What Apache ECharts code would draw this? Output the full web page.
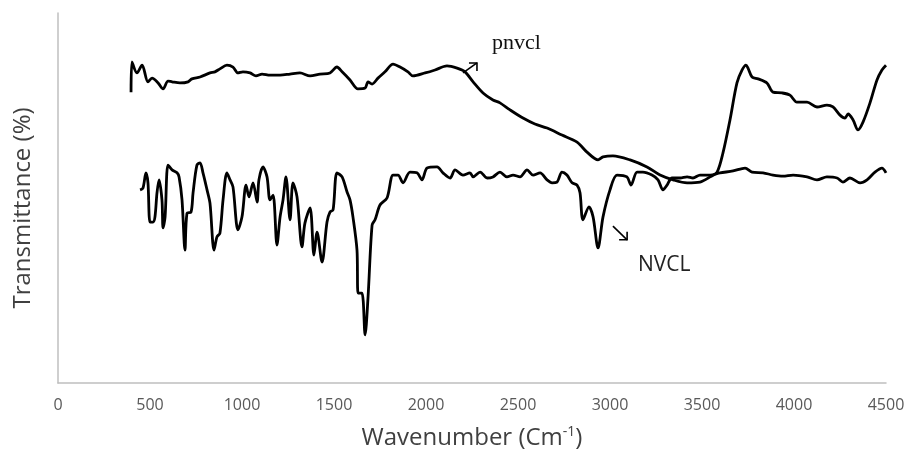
<!DOCTYPE html>
<html>
<head>
<meta charset="utf-8">
<script src="https://cdn.jsdelivr.net/npm/echarts@6/dist/echarts.min.js"></script>
<style>
html,body{margin:0;padding:0;background:#fff;}
#chart{width:909px;height:458px;}
</style>
</head>
<body>
<div id="chart"></div>
<script>
// Wavenumber (cm-1) and transmittance (arbitrary %)
const pnvclX = [397,402,429,457,489,511,544,571,598,620,663,707,728,772,826,853,880,918,951,978,1005,1044,1076,1109,1152,1207,1261,1315,1370,1424,1478,1516,1544,1587,1630,1669,1685,1707,1739,1777,1821,1859,1902,1929,1995,2049,2114,2169,2212,2256,2310,2364,2402,2457,2527,2592,2658,2739,2821,2875,2935,2962,3016,3109,3201,3272,3343,3419,3489,3544,3582,3614,3652,3690,3718,3739,3750,3772,3805,3853,3886,3935,3978,4016,4071,4125,4179,4212,4250,4277,4294,4321,4348,4375,4413,4451,4478,4500];
const pnvclY = [78.6,86.8,83.8,85.9,81.4,82.4,81.1,79.5,81.6,81.4,81.1,81.4,82.2,82.7,83.8,84.1,84.9,85.9,85.4,83.8,84.1,83.8,83.0,83.5,83.2,83.2,83.5,83.8,83.0,83.5,83.8,85.4,84.1,81.9,79.5,79.7,81.4,80.8,82.4,84.1,86.2,85.4,84.1,83.0,83.8,84.6,85.7,85.1,84.1,81.4,78.4,76.5,75.7,73.8,71.6,70.0,68.9,67.0,65.1,62.4,60.3,61.1,61.4,60.3,58.4,56.2,54.9,54.1,54.3,55.7,57.0,62.2,71.1,81.1,84.6,85.9,85.1,82.7,82.2,81.1,78.6,78.4,77.8,75.9,75.9,74.6,75.1,74.6,72.4,71.6,72.7,71.1,68.4,70.5,75.7,81.9,84.6,85.9];

const nvclX = [446,462,478,489,500,516,527,538,549,565,571,582,598,620,647,658,674,690,701,723,734,755,772,788,810,826,848,864,880,897,918,935,951,978,1000,1022,1038,1060,1082,1092,1114,1136,1152,1169,1190,1207,1223,1239,1261,1277,1299,1326,1342,1370,1391,1408,1435,1462,1478,1495,1516,1544,1571,1587,1603,1625,1631,1652,1669,1685,1707,1723,1750,1788,1821,1848,1875,1913,1951,1978,2006,2060,2092,2131,2158,2201,2239,2256,2294,2332,2364,2402,2440,2473,2511,2549,2582,2620,2658,2685,2712,2739,2766,2794,2821,2837,2853,2886,2908,2935,2962,3000,3038,3092,3114,3147,3179,3228,3261,3288,3310,3337,3381,3419,3451,3489,3544,3598,3669,3734,3772,3832,3886,3940,3995,4071,4125,4179,4234,4266,4304,4359,4397,4440,4478,4500];
const nvclY = [52.2,52.7,56.8,54.1,43.5,43.5,44.9,51.4,54.9,49.5,41.9,44.9,58.9,57.6,56.8,55.7,49.5,35.9,45.9,46.2,51.4,58.9,59.5,56.8,52.2,48.6,35.9,39.5,40.5,49.5,56.8,54.9,53.0,41.4,44.9,53.5,50.3,54.1,48.9,54.9,58.4,55.7,49.5,50.8,37.3,44.9,49.5,55.7,44.1,54.1,50.3,36.8,43.2,47.3,34.6,40.8,32.7,43.5,46.2,46.8,56.8,55.7,51.6,49.5,44.9,35.9,24.3,24.3,13.0,23.2,42.7,44.1,48.1,50.0,56.2,56.2,54.1,57.0,56.8,54.9,58.1,58.4,56.8,55.4,57.6,56.2,56.8,55.7,57.0,55.4,55.7,57.0,55.7,56.2,55.7,57.6,56.2,56.8,54.9,54.1,54.3,57.0,56.2,54.1,53.5,51.4,44.1,47.6,44.9,36.5,44.9,52.2,56.2,55.7,53.5,57.0,57.0,56.2,54.9,52.2,53.5,55.4,55.4,55.7,55.4,56.2,56.2,56.8,57.3,58.1,57.0,56.8,56.2,55.9,56.2,55.7,54.9,55.7,55.4,54.3,55.4,54.1,54.9,57.0,58.1,56.8];

const xTicks = [0,500,1000,1500,2000,2500,3000,3500,4000,4500];

// annotation anchor points in data space
const pnvclArrow = [[2201,83.8],[2277,86.5]];
const pnvclLabelAt = [2359,91.9];
const nvclArrow = [[3016,42.4],[3093,38.7]];
const nvclLabelAt = [3152,32.0];

const zip = (xs, ys) => xs.map((x,i)=>[x, ys[i]]);

const chart = echarts.init(document.getElementById('chart'), null, {renderer:'canvas'});
const axisGray = '#bfbfbf';
chart.setOption({
  animation:false,
  backgroundColor:'#fff',
  grid:{left:58,right:23,top:13,bottom:75,containLabel:false},
  xAxis:{
    type:'value',min:xTicks[0],max:xTicks[xTicks.length-1],interval:500,
    axisLine:{show:true,lineStyle:{color:axisGray,width:1.5}},
    axisTick:{show:false},
    splitLine:{show:false},
    axisLabel:{color:'#595959',fontFamily:'Open Sans',fontSize:16,margin:14,formatter:v=>String(v)},
    name:'{a|Wavenumber (Cm}{s|-1}{a|)}',
    nameLocation:'middle',nameGap:42,
    nameTextStyle:{rich:{
      a:{fontFamily:'Open Sans',fontSize:24,color:'#404040'},
      s:{fontFamily:'Open Sans',fontSize:14,color:'#404040',verticalAlign:'top',padding:[0,0,12,0]}
    }}
  },
  yAxis:{
    type:'value',min:0,max:100,
    axisLine:{show:true,lineStyle:{color:axisGray,width:1.5}},
    axisTick:{show:false},
    axisLabel:{show:false},
    splitLine:{show:false},
    name:'Transmittance (%)',nameLocation:'middle',nameGap:23,
    nameTextStyle:{fontFamily:'Open Sans',fontSize:24,color:'#404040',padding:[0,20,0,0]}
  },
  series:[
    {name:'pnvcl',type:'line',data:zip(pnvclX,pnvclY),showSymbol:false,smooth:0.3,
     lineStyle:{color:'#000',width:2.8},itemStyle:{color:'#000'}},
    {name:'NVCL',type:'line',data:zip(nvclX,nvclY),showSymbol:false,smooth:0.3,
     lineStyle:{color:'#000',width:2.8},itemStyle:{color:'#000'}}
  ]
});

function px(p){ return chart.convertToPixel({gridIndex:0}, p); }
function arrow(a, b, hx, hy){
  const p0 = px(a), p1 = px(b);
  return [
    {type:'line',shape:{x1:p0[0],y1:p0[1],x2:p1[0],y2:p1[1]},style:{stroke:'#000',lineWidth:1.6}},
    {type:'polyline',shape:{points:[[p1[0]+hx[0],p1[1]+hx[1]],[p1[0],p1[1]],[p1[0]+hy[0],p1[1]+hy[1]]]},style:{stroke:'#000',lineWidth:1.6,fill:null}}
  ];
}
const lp = px(pnvclLabelAt), ln = px(nvclLabelAt);
chart.setOption({graphic:[
  ...arrow(pnvclArrow[0], pnvclArrow[1], [-8,0], [0,8]),
  ...arrow(nvclArrow[0], nvclArrow[1], [-8,0], [0,-8]),
  {type:'text',x:lp[0],y:lp[1],style:{text:'pnvcl',font:'22px "Liberation Serif"',fill:'#111',verticalAlign:'middle',align:'left'}},
  {type:'text',x:ln[0],y:ln[1],style:{text:'NVCL',font:'21px "Open Sans"',fill:'#222',verticalAlign:'middle',align:'left'}}
]});
</script>
</body>
</html>
